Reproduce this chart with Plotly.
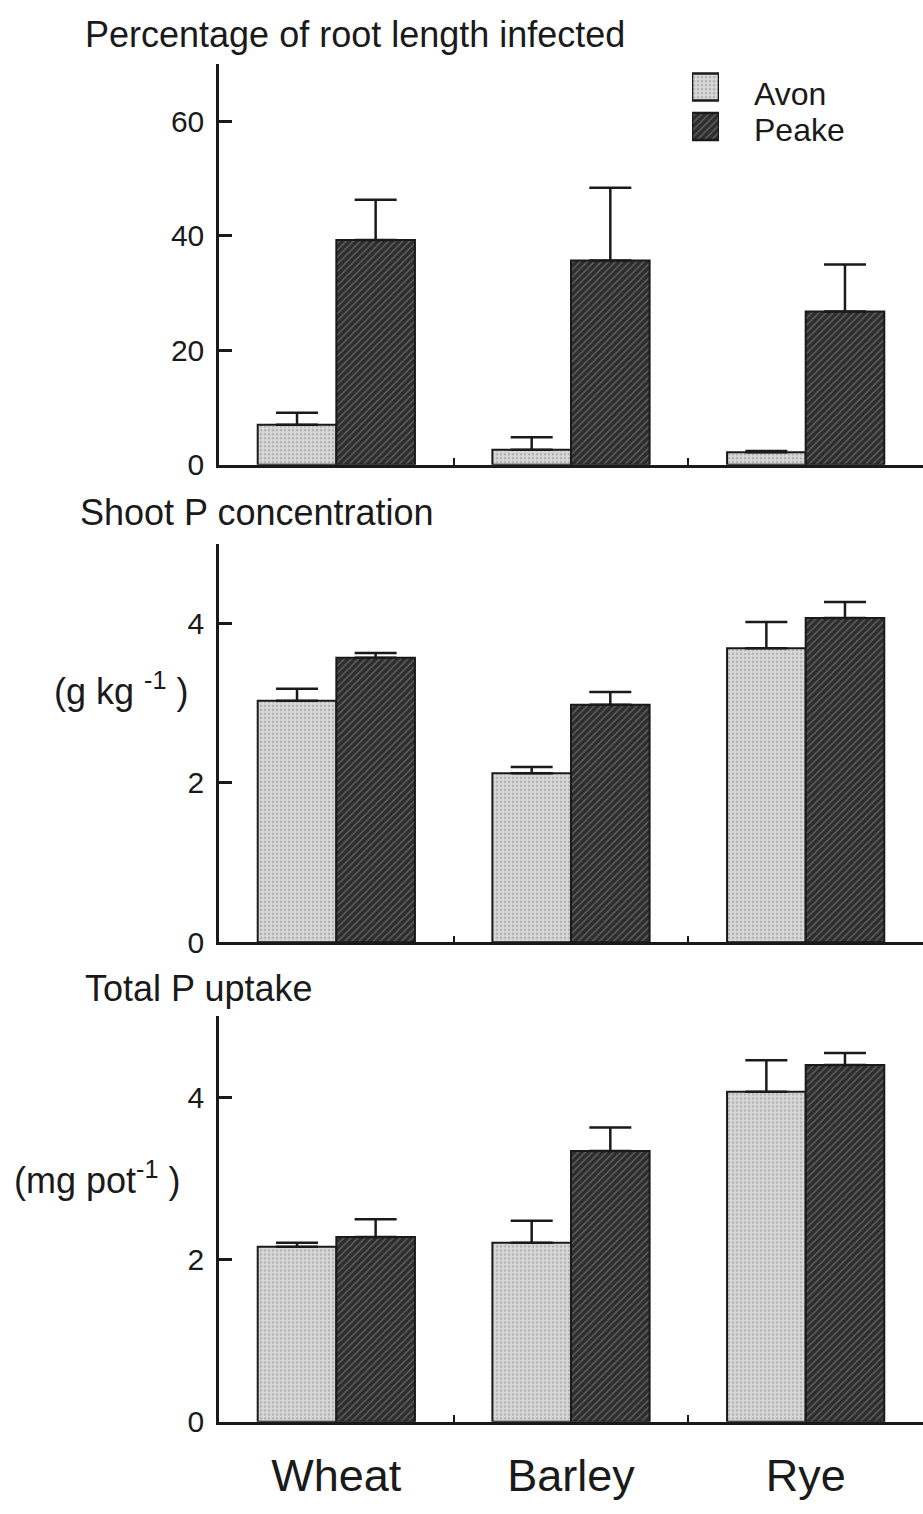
import plotly.graph_objects as go

# Cereal hosts and cultivar treatments
crops = ["Wheat", "Barley", "Rye"]
cultivars = ["Avon", "Peake"]

# Percentage of root length infected (mean, standard error)
infect_avon = [7.0, 2.6, 2.2]
infect_avon_se = [2.1, 2.2, 0.2]
infect_peake = [39.3, 35.7, 26.8]
infect_peake_se = [7.0, 12.7, 8.2]

# Shoot P concentration, g/kg
shootp_avon = [3.03, 2.12, 3.69]
shootp_avon_se = [0.15, 0.08, 0.33]
shootp_peake = [3.57, 2.98, 4.07]
shootp_peake_se = [0.06, 0.16, 0.20]

# Total P uptake, mg/pot
uptake_avon = [2.16, 2.21, 4.07]
uptake_avon_se = [0.05, 0.27, 0.39]
uptake_peake = [2.28, 3.34, 4.40]
uptake_peake_se = [0.22, 0.29, 0.15]

y_ticks_infect = [0, 20, 40, 60]
y_ticks_p = [0, 2, 4]

W, H = 923, 1514
FONT = "Liberation Sans, Arial, Helvetica, sans-serif"
INK = "#1a1a1a"


def py(px):
    """Convert a pixel row (from the top) to paper coordinates."""
    return 1 - px / H


def px_x(px):
    return px / W


styles = {
    "Avon": dict(shape=".", bgcolor="#d9d9d9", fgcolor="#8a8a8a", size=4, solidity=0.35),
    "Peake": dict(shape="/", bgcolor="#2e2e2e", fgcolor="#a0a0a0", size=5, solidity=0.25),
}

panels = [
    (infect_avon, infect_avon_se, infect_peake, infect_peake_se),
    (shootp_avon, shootp_avon_se, shootp_peake, shootp_peake_se),
    (uptake_avon, uptake_avon_se, uptake_peake, uptake_peake_se),
]

fig = go.Figure()
for i, (a, a_se, p, p_se) in enumerate(panels):
    xa = "x" if i == 0 else f"x{i + 1}"
    ya = "y" if i == 0 else f"y{i + 1}"
    for name, vals, se in (("Avon", a, a_se), ("Peake", p, p_se)):
        fig.add_trace(go.Bar(
            x=crops, y=vals, name=name, xaxis=xa, yaxis=ya, showlegend=False,
            marker=dict(color=styles[name]["bgcolor"], pattern=styles[name],
                        line=dict(color=INK, width=2)),
            error_y=dict(type="data", symmetric=False, array=se,
                         arrayminus=[0] * len(se), color=INK,
                         thickness=2.5, width=21),
        ))

# Legend key: one patterned swatch per cultivar on a small auxiliary axis
for name in cultivars:
    fig.add_trace(go.Bar(
        x=[1], y=[name], orientation="h", xaxis="x4", yaxis="y4",
        showlegend=False, hoverinfo="skip", width=0.68, offsetgroup="key",
        marker=dict(color=styles[name]["bgcolor"], pattern=styles[name],
                    line=dict(color=INK, width=2.5)),
    ))

x_dom = [px_x(219), 1.0]
y_doms = [[py(470), py(65)], [py(953), py(550)], [py(1438), py(1028)]]
y_ranges = [[0, 70], [0, 5], [0, 5]]
y_tickvals = [y_ticks_infect, y_ticks_p, y_ticks_p]

layout = dict(
    width=W, height=H, margin=dict(l=0, r=0, t=0, b=0),
    paper_bgcolor="white", plot_bgcolor="white",
    barmode="group", bargap=0.33, bargroupgap=0,
    font=dict(family=FONT, color=INK),
    showlegend=False,
    xaxis4=dict(domain=[px_x(692), px_x(719)], range=[0, 1], anchor="y4",
                visible=False, fixedrange=True),
    yaxis4=dict(domain=[py(148), py(68)], anchor="x4", visible=False,
                categoryorder="array", categoryarray=["Peake", "Avon"],
                range=[-0.5, 1.5], fixedrange=True),
)
for i in range(3):
    sfx = "" if i == 0 else str(i + 1)
    layout[f"xaxis{sfx}"] = dict(
        domain=x_dom, anchor=f"y{sfx}", range=[-0.5, 2.5],
        showline=True, linecolor=INK, linewidth=2.5,
        ticks="inside", ticklen=7, tickwidth=2, tickcolor=INK,
        tickson="boundaries", showgrid=False, zeroline=False,
        showticklabels=(i == 2),
        tickfont=dict(size=45, family=FONT, color=INK),
        ticklabelstandoff=12,
    )
    layout[f"yaxis{sfx}"] = dict(
        domain=y_doms[i], anchor=f"x{sfx}", range=y_ranges[i],
        tickvals=y_tickvals[i], showline=True, linecolor=INK, linewidth=2.5,
        ticks="inside", ticklen=13, tickwidth=2.5, tickcolor=INK,
        showgrid=False, zeroline=False, ticklabelstandoff=6,
        tickfont=dict(size=30, family=FONT, color=INK),
    )
fig.update_layout(**layout)

annotations = [
    dict(text="Percentage of root length infected", x=83, y=35, size=36),
    dict(text="Shoot P concentration", x=78, y=518, size=36),
    dict(text="Total P uptake", x=83, y=1000, size=36),
    dict(text="(g kg <sup>-1</sup> )", x=52, y=697, size=36),
    dict(text="(mg pot<sup>-1</sup> )", x=12, y=1191, size=36),
    dict(text="Avon", x=752, y=95, size=32),
    dict(text="Peake", x=752, y=131, size=32),
]
for a in annotations:
    fig.add_annotation(text=a["text"], x=px_x(a["x"]), y=py(a["y"]),
                       xref="paper", yref="paper", xanchor="left", yanchor="middle",
                       showarrow=False, font=dict(size=a["size"], family=FONT, color=INK))

fig.write_html("out.html")
